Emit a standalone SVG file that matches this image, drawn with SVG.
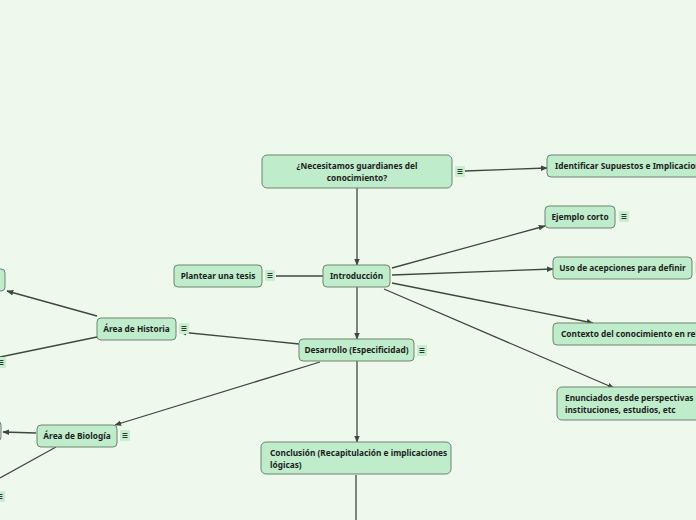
<svg xmlns="http://www.w3.org/2000/svg" width="696" height="520" viewBox="0 0 696 520">
<defs>
<style>
.bg{fill:#eff8ec}
.node rect.box{fill:#bfeccb;stroke:#6f8570;stroke-width:1}
.node text, text{font-family:"Noto Sans","Open Sans","DejaVu Sans",sans-serif;font-weight:bold;font-size:8.3px;fill:#1e1e1e}
.c{text-anchor:middle}
.conn line,.conn path{stroke:#3b4a3d;stroke-width:1.3;fill:none}
</style>
<marker id="ah" viewBox="0 0 10 10" refX="9" refY="5" markerWidth="7" markerHeight="7" orient="auto" markerUnits="userSpaceOnUse">
<path d="M0,1 L10,5 L0,9 z" fill="#3b4a3d"/>
</marker>
<g id="menuicon">
<rect x="0" y="0" width="10" height="11" rx="1" fill="#c6eecf"/>
<path d="M2.5,3.5 H7.5 M2.5,5.5 H7.5 M2.5,7.5 H7.5" stroke="#2e3a30" stroke-width="1" fill="none"/>
</g>
</defs>
<rect class="bg" x="0" y="0" width="696" height="520"/>

<g id="connectors" class="conn">
<line x1="465" y1="171" x2="547" y2="168" marker-end="url(#ah)"/>
<line x1="357" y1="188" x2="357" y2="265" marker-end="url(#ah)"/>
<line x1="276" y1="276" x2="323" y2="276"/>
<line x1="392" y1="268" x2="545" y2="226" marker-end="url(#ah)"/>
<line x1="392" y1="275" x2="553" y2="269" marker-end="url(#ah)"/>
<line x1="392" y1="283" x2="593" y2="323" marker-end="url(#ah)"/>
<line x1="384" y1="289" x2="614" y2="388" marker-end="url(#ah)"/>
<line x1="357" y1="287" x2="357" y2="339" marker-end="url(#ah)"/>
<line x1="299" y1="344" x2="180" y2="332" marker-end="url(#ah)"/>
<line x1="97" y1="316" x2="7" y2="291" marker-end="url(#ah)"/>
<line x1="97" y1="337" x2="0" y2="357"/>
<line x1="320" y1="362" x2="115" y2="425" marker-end="url(#ah)"/>
<line x1="357" y1="361" x2="357" y2="442" marker-end="url(#ah)"/>
<line x1="36" y1="433" x2="3" y2="432" marker-end="url(#ah)"/>
<line x1="56" y1="447" x2="0" y2="478"/>
<line x1="356" y1="475" x2="356" y2="520"/>
</g>

<g id="n-main" class="node">
<rect class="box" x="262" y="155" width="190" height="33" rx="5"/>
<text class="c" x="357" y="169">¿Necesitamos guardianes del</text>
<text class="c" x="357" y="181">conocimiento?</text>
<use href="#menuicon" x="455" y="166"/>
</g>

<g id="n-identificar" class="node">
<rect class="box" x="547" y="155" width="170" height="22" rx="4"/>
<text x="555" y="169">Identificar Supuestos e Implicaciones</text>
</g>

<g id="n-intro" class="node">
<rect class="box" x="323" y="265" width="67" height="22" rx="4"/>
<text class="c" x="356.5" y="279">Introducción</text>
</g>

<g id="n-tesis" class="node">
<rect class="box" x="174" y="265" width="88" height="22" rx="4"/>
<text class="c" x="218" y="279">Plantear una tesis</text>
<use href="#menuicon" x="265" y="270"/>
</g>

<g id="n-ejemplo" class="node">
<rect class="box" x="545" y="206" width="70" height="22" rx="4"/>
<text class="c" x="580" y="220">Ejemplo corto</text>
<use href="#menuicon" x="619" y="211"/>
</g>

<g id="n-uso" class="node">
<rect class="box" x="553" y="257" width="139" height="22" rx="4"/>
<text class="c" x="622.5" y="271">Uso de acepciones para definir</text>
<use href="#menuicon" x="695" y="262"/>
</g>

<g id="n-contexto" class="node">
<rect class="box" x="553" y="323" width="170" height="22" rx="4"/>
<text x="561" y="337">Contexto del conocimiento en relación</text>
</g>

<g id="n-enunciados" class="node">
<rect class="box" x="557" y="387" width="170" height="33" rx="5"/>
<text x="565" y="401">Enunciados desde perspectivas de</text>
<text x="565" y="413">instituciones, estudios, etc</text>
</g>

<g id="n-desarrollo" class="node">
<rect class="box" x="299" y="339" width="115" height="22" rx="4"/>
<text class="c" x="356.5" y="353">Desarrollo (Especificidad)</text>
<use href="#menuicon" x="417" y="345"/>
</g>

<g id="n-historia" class="node">
<rect class="box" x="97" y="318" width="79" height="22" rx="4"/>
<text class="c" x="136.5" y="332">Área de Historia</text>
<use href="#menuicon" x="179" y="323"/>
</g>

<g id="n-hist-a" class="node">
<rect class="box" x="-40" y="269" width="45" height="22" rx="4"/>
</g>

<g id="n-hist-b" class="node">
<use href="#menuicon" x="-4" y="357"/>
</g>

<g id="n-biologia" class="node">
<rect class="box" x="37" y="425" width="80" height="22" rx="4"/>
<text class="c" x="77" y="439">Área de Biología</text>
<use href="#menuicon" x="120" y="430"/>
</g>

<g id="n-bio-a" class="node">
<rect class="box" x="-40" y="421" width="41" height="20" rx="4"/>
</g>

<g id="n-bio-b" class="node">
<use href="#menuicon" x="-5" y="491"/>
</g>

<g id="n-conclusion" class="node">
<rect class="box" x="261" y="442" width="190" height="32" rx="5"/>
<text x="270" y="456">Conclusión (Recapitulación e implicaciones</text>
<text x="270" y="468">lógicas)</text>
</g>
</svg>
